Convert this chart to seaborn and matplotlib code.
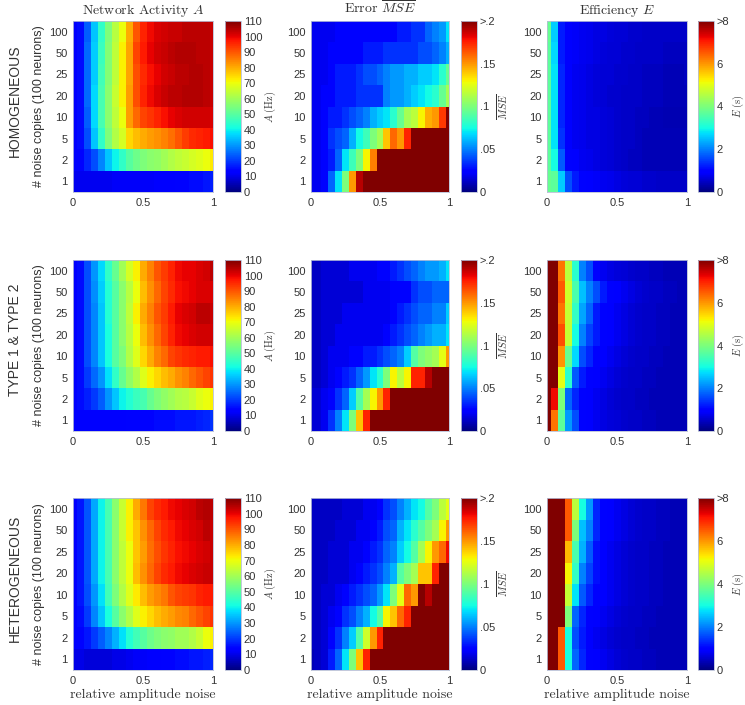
import numpy as np
import pandas as pd
import seaborn as sns
import matplotlib.pyplot as plt

# y categories (bottom -> top) and x noise levels
copies = [1, 2, 5, 10, 20, 25, 50, 100]
noise = [0, 0.05, 0.1, 0.15, 0.2, 0.25, 0.3, 0.35, 0.4, 0.45, 0.5,
         0.55, 0.6, 0.65, 0.7, 0.75, 0.8, 0.85, 0.9, 0.95, 1]

# ---- network activity A (Hz), rows = copies 1..100
act_homog = [
    [11, 11, 11, 11, 11, 11, 12, 12, 12, 12, 12, 12, 13, 13, 13, 14, 14, 15, 15, 16, 17],
    [14, 14, 18, 22, 28, 35, 40, 45, 50, 53, 55, 57, 58, 60, 62, 64, 65, 67, 68, 70, 73],
    [13, 15, 22, 35, 45, 55, 62, 67, 75, 78, 80, 82, 83, 85, 87, 90, 93, 95, 96, 97, 98],
    [13, 15, 24, 37, 48, 57, 64, 70, 82, 88, 92, 94, 96, 98, 100, 101, 102, 102, 102, 102, 101],
    [13, 15, 25, 37, 48, 57, 65, 72, 82, 91, 96, 99, 101, 103, 104, 104, 105, 105, 105, 104, 103],
    [13, 15, 25, 36, 47, 56, 64, 72, 81, 91, 95, 98, 100, 102, 103, 104, 104, 105, 105, 104, 103],
    [13, 15, 25, 36, 46, 56, 64, 72, 81, 92, 97, 100, 102, 103, 104, 105, 105, 105, 104, 104, 103],
    [13, 15, 24, 35, 45, 55, 63, 70, 80, 90, 96, 99, 101, 102, 103, 103, 104, 104, 104, 104, 103],
]
act_type = [
    [13, 13, 13, 13, 13, 13, 13, 13, 14, 14, 14, 14, 15, 15, 15, 16, 16, 16, 17, 18, 19],
    [14, 15, 17, 20, 24, 30, 35, 40, 43, 46, 48, 52, 55, 58, 60, 62, 63, 65, 68, 70, 72],
    [13, 15, 20, 25, 30, 38, 45, 52, 58, 62, 68, 72, 75, 78, 80, 83, 85, 88, 90, 92, 94],
    [13, 15, 22, 28, 35, 42, 50, 55, 62, 68, 75, 80, 85, 88, 92, 94, 95, 96, 97, 97, 98],
    [13, 15, 22, 28, 35, 42, 50, 57, 63, 70, 78, 83, 88, 92, 96, 99, 100, 101, 102, 102, 102],
    [13, 15, 22, 28, 35, 43, 50, 57, 64, 72, 80, 85, 90, 93, 97, 100, 101, 102, 104, 104, 103],
    [13, 15, 22, 29, 36, 43, 50, 57, 63, 70, 78, 83, 88, 92, 95, 98, 99, 100, 101, 101, 101],
    [13, 15, 22, 30, 37, 45, 52, 60, 67, 72, 80, 85, 90, 93, 96, 99, 100, 100, 101, 102, 104],
]
act_het = [
    [10, 10, 9, 9, 9, 9, 10, 10, 11, 12, 12, 13, 13, 14, 14, 15, 15, 16, 16, 17, 18],
    [13, 14, 16, 20, 24, 28, 33, 38, 43, 47, 50, 53, 55, 57, 58, 60, 60, 62, 65, 70, 72],
    [13, 15, 20, 28, 35, 42, 50, 57, 62, 68, 72, 75, 78, 80, 82, 84, 85, 88, 90, 92, 94],
    [13, 16, 22, 30, 38, 47, 55, 62, 68, 73, 78, 82, 84, 86, 90, 92, 93, 94, 96, 97, 97],
    [13, 16, 23, 32, 40, 48, 57, 64, 70, 78, 83, 88, 92, 95, 97, 99, 100, 101, 102, 103, 103],
    [13, 16, 23, 32, 40, 48, 57, 64, 70, 77, 82, 87, 91, 94, 96, 98, 99, 100, 101, 102, 103],
    [13, 16, 23, 32, 40, 48, 57, 65, 72, 77, 83, 88, 92, 95, 97, 99, 100, 101, 102, 104, 103],
    [13, 16, 23, 32, 40, 48, 57, 65, 72, 80, 86, 92, 95, 97, 99, 100, 101, 102, 104, 105, 104],
]

# ---- error MSE (values above .2 saturate)
mse_homog = [
    [0.02, 0.02, 0.025, 0.045, 0.07, 0.1, 0.15, 0.19, 0.25, 0.25, 0.25, 0.25, 0.25, 0.25, 0.25, 0.25, 0.25, 0.25, 0.25, 0.25, 0.25],
    [0.02, 0.02, 0.025, 0.03, 0.045, 0.07, 0.085, 0.1, 0.13, 0.155, 0.25, 0.25, 0.25, 0.25, 0.25, 0.25, 0.25, 0.25, 0.25, 0.25, 0.25],
    [0.02, 0.02, 0.025, 0.035, 0.04, 0.045, 0.06, 0.075, 0.085, 0.1, 0.11, 0.14, 0.16, 0.15, 0.175, 0.25, 0.25, 0.25, 0.25, 0.25, 0.25],
    [0.02, 0.02, 0.025, 0.03, 0.03, 0.035, 0.04, 0.045, 0.05, 0.06, 0.065, 0.07, 0.08, 0.095, 0.11, 0.115, 0.13, 0.145, 0.15, 0.17, 0.25],
    [0.02, 0.02, 0.025, 0.025, 0.03, 0.03, 0.03, 0.035, 0.035, 0.035, 0.035, 0.05, 0.055, 0.055, 0.06, 0.065, 0.07, 0.075, 0.08, 0.095, 0.11],
    [0.02, 0.02, 0.02, 0.025, 0.03, 0.03, 0.03, 0.035, 0.04, 0.04, 0.045, 0.05, 0.055, 0.055, 0.06, 0.06, 0.065, 0.065, 0.07, 0.08, 0.095],
    [0.02, 0.02, 0.02, 0.025, 0.025, 0.025, 0.025, 0.025, 0.03, 0.03, 0.03, 0.035, 0.035, 0.035, 0.035, 0.035, 0.04, 0.04, 0.045, 0.05, 0.06],
    [0.02, 0.02, 0.02, 0.02, 0.025, 0.025, 0.025, 0.025, 0.025, 0.025, 0.025, 0.025, 0.025, 0.03, 0.03, 0.035, 0.035, 0.045, 0.05, 0.055, 0.07],
]
mse_type = [
    [0.015, 0.015, 0.02, 0.035, 0.05, 0.07, 0.1, 0.14, 0.175, 0.25, 0.25, 0.25, 0.25, 0.25, 0.25, 0.25, 0.25, 0.25, 0.25, 0.25, 0.25],
    [0.015, 0.015, 0.02, 0.025, 0.035, 0.045, 0.065, 0.09, 0.11, 0.13, 0.15, 0.175, 0.25, 0.25, 0.25, 0.25, 0.25, 0.25, 0.25, 0.25, 0.25],
    [0.012, 0.012, 0.015, 0.02, 0.025, 0.03, 0.035, 0.045, 0.055, 0.07, 0.08, 0.1, 0.13, 0.115, 0.13, 0.175, 0.175, 0.19, 0.25, 0.25, 0.25],
    [0.012, 0.012, 0.015, 0.02, 0.02, 0.02, 0.025, 0.025, 0.03, 0.03, 0.035, 0.04, 0.045, 0.05, 0.065, 0.09, 0.1, 0.105, 0.11, 0.125, 0.15],
    [0.012, 0.012, 0.015, 0.015, 0.02, 0.02, 0.02, 0.02, 0.02, 0.02, 0.02, 0.025, 0.03, 0.035, 0.04, 0.045, 0.05, 0.055, 0.06, 0.06, 0.07],
    [0.012, 0.012, 0.015, 0.015, 0.015, 0.02, 0.02, 0.02, 0.02, 0.02, 0.02, 0.02, 0.025, 0.03, 0.035, 0.04, 0.045, 0.045, 0.05, 0.05, 0.065],
    [0.012, 0.012, 0.015, 0.015, 0.015, 0.015, 0.015, 0.015, 0.02, 0.02, 0.02, 0.02, 0.025, 0.025, 0.025, 0.035, 0.04, 0.04, 0.045, 0.045, 0.045],
    [0.012, 0.012, 0.015, 0.015, 0.015, 0.015, 0.02, 0.02, 0.02, 0.02, 0.025, 0.025, 0.03, 0.035, 0.04, 0.045, 0.05, 0.055, 0.055, 0.06, 0.07],
]
mse_het = [
    [0.01, 0.012, 0.015, 0.03, 0.045, 0.07, 0.1, 0.14, 0.175, 0.25, 0.25, 0.25, 0.25, 0.25, 0.25, 0.25, 0.25, 0.25, 0.25, 0.25, 0.25],
    [0.012, 0.012, 0.015, 0.025, 0.035, 0.05, 0.065, 0.09, 0.12, 0.15, 0.175, 0.25, 0.25, 0.25, 0.25, 0.25, 0.25, 0.25, 0.25, 0.25, 0.25],
    [0.012, 0.012, 0.015, 0.02, 0.025, 0.035, 0.04, 0.05, 0.06, 0.075, 0.09, 0.13, 0.14, 0.16, 0.175, 0.25, 0.25, 0.25, 0.25, 0.25, 0.25],
    [0.012, 0.012, 0.015, 0.015, 0.02, 0.025, 0.03, 0.035, 0.04, 0.045, 0.055, 0.07, 0.1, 0.125, 0.16, 0.15, 0.25, 0.19, 0.25, 0.25, 0.25],
    [0.012, 0.012, 0.012, 0.015, 0.015, 0.015, 0.02, 0.025, 0.03, 0.035, 0.04, 0.05, 0.06, 0.09, 0.1, 0.11, 0.14, 0.14, 0.175, 0.2, 0.25],
    [0.012, 0.012, 0.012, 0.015, 0.015, 0.015, 0.02, 0.02, 0.025, 0.03, 0.035, 0.045, 0.05, 0.065, 0.075, 0.09, 0.11, 0.13, 0.15, 0.16, 0.18],
    [0.012, 0.012, 0.012, 0.012, 0.015, 0.015, 0.015, 0.02, 0.02, 0.025, 0.03, 0.04, 0.045, 0.06, 0.07, 0.08, 0.09, 0.1, 0.11, 0.13, 0.15],
    [0.012, 0.012, 0.012, 0.012, 0.012, 0.015, 0.015, 0.015, 0.02, 0.02, 0.025, 0.035, 0.04, 0.05, 0.06, 0.07, 0.075, 0.09, 0.1, 0.115, 0.125],
]

# ---- efficiency E (s), values above 8 saturate
eff_homog = [
    [3.8, 3.7, 2.6, 1.6, 1.2, 1.0, 0.9, 0.85, 0.8, 0.75, 0.7, 0.65, 0.6, 0.6, 0.55, 0.55, 0.5, 0.5, 0.5, 0.5, 0.5],
    [3.7, 3.0, 1.7, 1.0, 0.9, 0.8, 0.75, 0.7, 0.65, 0.6, 0.55, 0.5, 0.45, 0.45, 0.4, 0.4, 0.4, 0.4, 0.4, 0.4, 0.4],
    [3.7, 2.8, 1.4, 0.9, 0.8, 0.75, 0.7, 0.7, 0.65, 0.6, 0.55, 0.5, 0.5, 0.45, 0.4, 0.4, 0.4, 0.4, 0.4, 0.4, 0.4],
    [3.7, 2.8, 1.3, 0.9, 0.8, 0.75, 0.7, 0.7, 0.65, 0.6, 0.55, 0.5, 0.5, 0.45, 0.45, 0.4, 0.4, 0.35, 0.35, 0.35, 0.35],
    [3.7, 2.8, 1.3, 0.9, 0.8, 0.75, 0.7, 0.65, 0.6, 0.55, 0.55, 0.5, 0.5, 0.5, 0.45, 0.45, 0.45, 0.4, 0.4, 0.4, 0.4],
    [3.7, 2.8, 1.3, 0.9, 0.8, 0.75, 0.7, 0.65, 0.6, 0.6, 0.55, 0.55, 0.5, 0.5, 0.45, 0.45, 0.45, 0.4, 0.4, 0.4, 0.45],
    [3.7, 2.7, 1.2, 0.9, 0.85, 0.8, 0.75, 0.7, 0.65, 0.6, 0.6, 0.55, 0.55, 0.5, 0.5, 0.5, 0.5, 0.45, 0.45, 0.45, 0.45],
    [3.8, 2.6, 1.2, 0.9, 0.85, 0.8, 0.75, 0.7, 0.7, 0.65, 0.6, 0.6, 0.55, 0.55, 0.5, 0.5, 0.5, 0.5, 0.5, 0.5, 0.5],
]
eff_type = [
    [9, 6.3, 3.7, 2.2, 1.6, 1.0, 0.9, 0.8, 0.7, 0.65, 0.6, 0.55, 0.5, 0.5, 0.45, 0.45, 0.4, 0.4, 0.4, 0.4, 0.4],
    [9, 7.2, 4.0, 1.8, 1.3, 1.0, 0.9, 0.8, 0.7, 0.6, 0.55, 0.5, 0.5, 0.45, 0.45, 0.4, 0.4, 0.4, 0.4, 0.4, 0.4],
    [9, 8.2, 5.0, 3.2, 1.7, 1.2, 1.0, 0.9, 0.8, 0.7, 0.6, 0.55, 0.5, 0.5, 0.45, 0.45, 0.4, 0.4, 0.4, 0.4, 0.4],
    [9, 8.5, 6.0, 3.8, 2.7, 1.6, 1.3, 1.0, 0.9, 0.8, 0.7, 0.6, 0.55, 0.5, 0.5, 0.45, 0.45, 0.4, 0.4, 0.4, 0.4],
    [9, 8.5, 6.6, 4.7, 3.0, 2.0, 1.5, 1.2, 1.0, 0.9, 0.8, 0.7, 0.6, 0.55, 0.5, 0.5, 0.45, 0.45, 0.4, 0.4, 0.4],
    [9, 8.5, 6.3, 4.7, 3.3, 2.3, 1.8, 1.2, 1.0, 0.9, 0.8, 0.7, 0.6, 0.55, 0.5, 0.5, 0.45, 0.45, 0.4, 0.4, 0.4],
    [9, 8.5, 6.5, 4.8, 3.5, 2.5, 2.0, 1.6, 1.2, 1.0, 0.9, 0.8, 0.7, 0.6, 0.55, 0.5, 0.5, 0.45, 0.45, 0.4, 0.4],
    [9, 8.5, 6.3, 4.6, 3.2, 2.0, 1.6, 1.0, 0.8, 0.7, 0.65, 0.6, 0.55, 0.5, 0.5, 0.45, 0.45, 0.4, 0.4, 0.4, 0.4],
]
eff_het = [
    [9, 9, 6.5, 3.0, 1.8, 1.3, 1.0, 0.9, 0.8, 0.7, 0.6, 0.55, 0.5, 0.5, 0.45, 0.45, 0.4, 0.4, 0.4, 0.4, 0.4],
    [9, 9, 6.5, 3.0, 1.6, 1.2, 0.9, 0.8, 0.7, 0.6, 0.55, 0.5, 0.5, 0.45, 0.45, 0.4, 0.4, 0.4, 0.4, 0.4, 0.4],
    [9, 9, 9, 4.0, 1.8, 1.3, 1.0, 0.9, 0.8, 0.7, 0.6, 0.55, 0.5, 0.5, 0.45, 0.45, 0.4, 0.4, 0.4, 0.4, 0.4],
    [9, 9, 9, 4.7, 2.8, 1.7, 1.3, 1.0, 0.9, 0.8, 0.7, 0.6, 0.55, 0.5, 0.5, 0.45, 0.45, 0.4, 0.4, 0.4, 0.4],
    [9, 9, 9, 5.2, 3.3, 2.0, 1.5, 1.1, 0.9, 0.8, 0.7, 0.6, 0.55, 0.5, 0.5, 0.45, 0.45, 0.4, 0.4, 0.4, 0.4],
    [9, 9, 9, 5.7, 3.5, 2.4, 1.7, 1.1, 0.9, 0.8, 0.7, 0.6, 0.55, 0.5, 0.5, 0.45, 0.45, 0.4, 0.4, 0.4, 0.4],
    [9, 9, 9, 6.5, 4.0, 2.5, 2.0, 1.3, 1.0, 0.9, 0.8, 0.7, 0.6, 0.55, 0.5, 0.5, 0.45, 0.45, 0.4, 0.4, 0.4],
    [9, 9, 9, 6.5, 4.6, 3.0, 2.2, 1.3, 1.0, 0.9, 0.8, 0.7, 0.6, 0.55, 0.5, 0.5, 0.45, 0.45, 0.4, 0.4, 0.4],
]

row_names = ["HOMOGENEOUS", "TYPE 1 & TYPE 2", "HETEROGENEOUS"]
col_titles = [r"Network Activity $A$", r"Error $\overline{MSE}$", r"Efficiency $E$"]
grid = [[act_homog, mse_homog, eff_homog],
        [act_type, mse_type, eff_type],
        [act_het, mse_het, eff_het]]

# colour scales per column
scales = [
    dict(vmin=0, vmax=110, ticks=list(range(0, 111, 10)),
         labels=[str(t) for t in range(0, 111, 10)], clabel=r"$A\ (\mathrm{Hz})$"),
    dict(vmin=0, vmax=0.2, ticks=[0, 0.05, 0.1, 0.15, 0.2],
         labels=["0", ".05", ".1", ".15", ">.2"], clabel=r"$\overline{MSE}$"),
    dict(vmin=0, vmax=8, ticks=[0, 2, 4, 6, 8],
         labels=["0", "2", "4", "6", ">8"], clabel=r"$E\ (\mathrm{s})$"),
]

sns.set_style("white")
plt.rcParams['font.family'] = ['Liberation Sans', 'DejaVu Sans']
plt.rcParams['mathtext.fontset'] = 'cm'

W, H = 745, 705
fig = plt.figure(figsize=(W / 100, H / 100), dpi=100)

col_x = [(73, 213), (311, 449), (547, 687)]
cbar_x = [(225, 241), (461, 477), (698, 714)]
clabel_x = [270, 503, 738]   # centre of the colourbar label, px
row_y = [(21, 192), (260, 431), (498, 670)]
txt = '#333333'
edge = '#b8bfd6'

for i in range(3):
    for j in range(3):
        x0, x1 = col_x[j]
        y0, y1 = row_y[i]
        ax = fig.add_axes([x0 / W, 1 - y1 / H, (x1 - x0) / W, (y1 - y0) / H])
        cx0, cx1 = cbar_x[j]
        cax = fig.add_axes([cx0 / W, 1 - y1 / H, (cx1 - cx0) / W, (y1 - y0) / H])
        sc = scales[j]
        df = pd.DataFrame(grid[i][j], index=copies, columns=noise).iloc[::-1]
        sns.heatmap(df, ax=ax, cbar_ax=cax, cmap='jet', vmin=sc['vmin'], vmax=sc['vmax'],
                    xticklabels=False, yticklabels=False)
        ax.set_xlim(0.5, len(noise) - 0.5)
        ax.set_ylim(len(copies), 0)
        ax.set_xticks([0.5, 10.5, 20.5])
        ax.set_xticklabels(['0', '0.5', '1'])
        ax.set_yticks(np.arange(len(copies)) + 0.5)
        ax.set_yticklabels([str(c) for c in copies[::-1]], rotation=0)
        ax.tick_params(length=0, labelsize=8, labelcolor=txt, pad=4)
        ax.set_xlabel('')
        ax.set_ylabel('')
        for s in ax.spines.values():
            s.set_visible(True)
            s.set_color(edge)
            s.set_linewidth(0.6)

        cbar = ax.collections[0].colorbar
        cbar.set_ticks(sc['ticks'])
        cbar.set_ticklabels(sc['labels'])
        cbar.outline.set_edgecolor(edge)
        cbar.outline.set_linewidth(0.6)
        cax.tick_params(length=0, labelsize=8, labelcolor=txt, pad=2)
        cax.set_ylabel(sc['clabel'], fontsize=7.5, color=txt, va='center')
        cax.yaxis.set_label_coords((clabel_x[j] - cx0) / (cx1 - cx0), 0.5)

        if i == 0:
            ax.set_title(col_titles[j], fontsize=10, fontfamily='cmr10', color=txt, pad=5)
        if i == 2:
            ax.set_xlabel('relative amplitude noise', fontsize=10, fontfamily='cmr10',
                          color=txt, labelpad=2)
        if j == 0:
            ax.set_ylabel('# noise copies (100 neurons)', fontsize=9, color=txt, labelpad=3)

for i, name in enumerate(row_names):
    y0, y1 = row_y[i]
    fig.text(15 / W, 1 - ((y0 + y1) / 2 - 6) / H, name, rotation=90, ha='center',
             va='center', fontsize=10, color=txt)

fig.savefig('out.png', dpi=100)
